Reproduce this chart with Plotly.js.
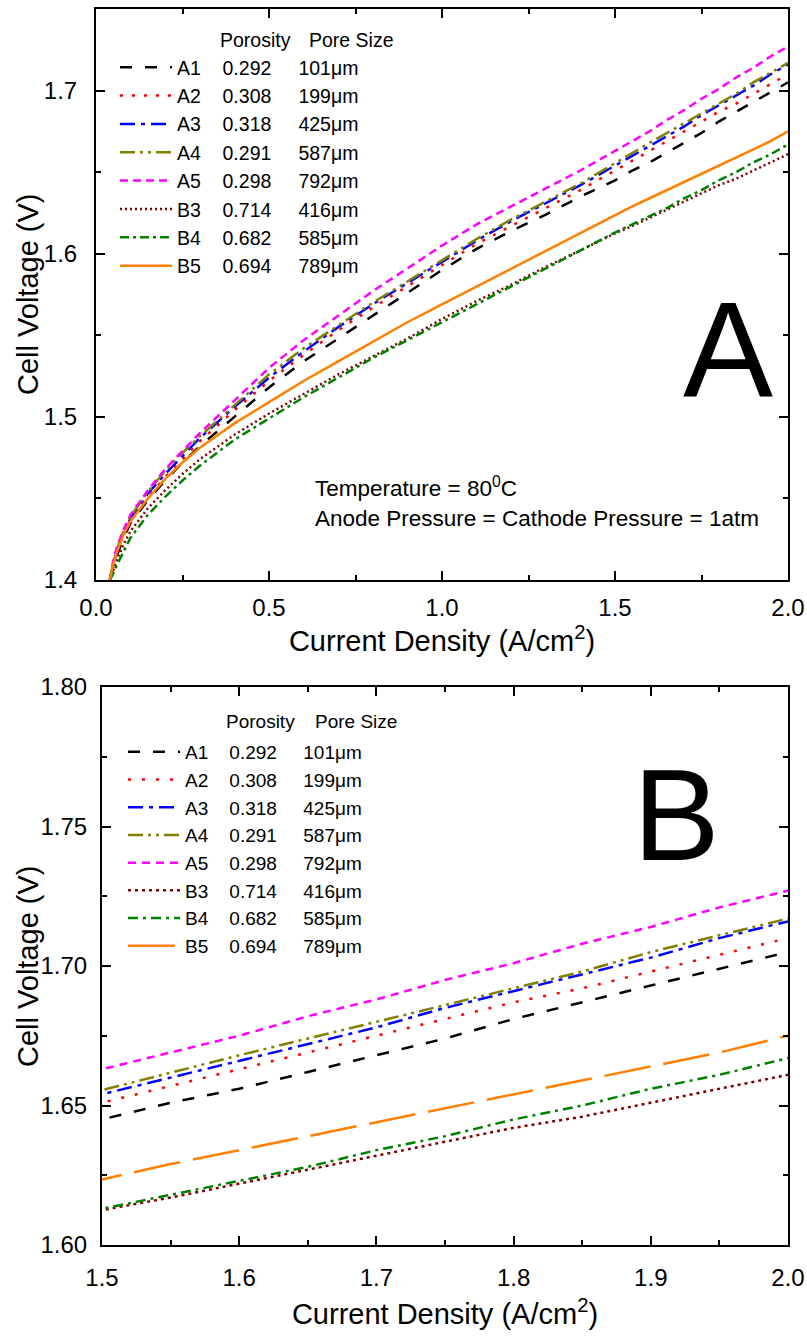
<!DOCTYPE html>
<html><head><meta charset="utf-8">
<script src="https://cdn.plot.ly/plotly-3.0.1.min.js"></script>
<style>html,body{margin:0;padding:0;background:#fff}#chart{width:807px;height:1340px}</style>
</head><body><div id="chart"></div>
<script>
// ---- data ----
const current = [0.04,0.05,0.06,0.08,0.1,0.15,0.2,0.25,0.3,0.4,0.5,0.6,0.7,0.8,0.9,1.0,1.1,1.2,1.3,1.4,1.5,1.55,1.6,1.65,1.7,1.75,1.8,1.85,1.9,1.95,2.0];
const seriesNames = ['A1','A2','A3','A4','A5','B3','B4','B5'];
const porosity = ['0.292','0.308','0.318','0.291','0.298','0.714','0.682','0.694'];
const poreSize = ['101','199','425','587','792','416','585','789'];
const vA1 = [1.400,1.408,1.415,1.426,1.435,1.449,1.461,1.472,1.482,1.500,1.518,1.534,1.548,1.562,1.576,1.590,1.603,1.614,1.624,1.635,1.645,1.651,1.656,1.662,1.668,1.674,1.681,1.687,1.693,1.699,1.705];
const vA2 = [1.400,1.409,1.417,1.428,1.437,1.451,1.463,1.474,1.485,1.504,1.522,1.538,1.553,1.567,1.580,1.593,1.606,1.617,1.628,1.639,1.651,1.657,1.663,1.669,1.675,1.681,1.687,1.692,1.698,1.704,1.710];
const vA3 = [1.400,1.410,1.418,1.429,1.438,1.453,1.465,1.476,1.487,1.506,1.524,1.540,1.555,1.569,1.582,1.595,1.608,1.620,1.631,1.642,1.654,1.660,1.666,1.672,1.678,1.685,1.691,1.697,1.703,1.710,1.716];
const vA4 = [1.400,1.411,1.419,1.430,1.439,1.454,1.467,1.478,1.488,1.507,1.526,1.542,1.556,1.570,1.583,1.596,1.609,1.621,1.632,1.643,1.6555,1.662,1.668,1.674,1.680,1.686,1.692,1.698,1.705,1.711,1.717];
const vA5 = [1.400,1.412,1.420,1.431,1.440,1.455,1.468,1.479,1.490,1.510,1.530,1.547,1.562,1.577,1.591,1.605,1.618,1.629,1.640,1.651,1.663,1.669,1.675,1.682,1.688,1.695,1.701,1.708,1.714,1.721,1.727];
const vB3 = [1.400,1.406,1.412,1.422,1.430,1.444,1.455,1.465,1.474,1.489,1.502,1.514,1.526,1.537,1.548,1.560,1.571,1.581,1.592,1.602,1.6125,1.617,1.622,1.627,1.632,1.637,1.642,1.646,1.651,1.656,1.661];
const vB4 = [1.400,1.404,1.409,1.418,1.426,1.440,1.451,1.461,1.470,1.486,1.499,1.512,1.524,1.536,1.547,1.558,1.569,1.580,1.591,1.602,1.613,1.618,1.623,1.628,1.634,1.639,1.645,1.650,1.656,1.661,1.667];
const vB5 = [1.400,1.410,1.417,1.428,1.436,1.450,1.462,1.472,1.481,1.496,1.509,1.522,1.534,1.546,1.558,1.569,1.580,1.591,1.602,1.613,1.6235,1.629,1.634,1.639,1.644,1.649,1.654,1.659,1.664,1.669,1.675];
const values = [vA1,vA2,vA3,vA4,vA5,vB3,vB4,vB5];

// ---- styles ----
const colors = ['#000000','#ff0000','#0000ff','#808000','#ff00ff','#800000','#008000','#ff8000'];
const dashTop = ['12px,13px','3px,9px','15px,6px,4px,6px','15px,5px,3px,5px,3px,5px','8px,5px','2px,3px','9px,4px,3px,4px','solid'];
const dashBot = ['12px,13px','3px,11px','15px,6px,4px,6px','15px,5px,3px,5px,3px,5px','8px,6px','3px,4px','10px,5px,3px,5px','47px,13px'];
const FONT = 'Arial, "Liberation Sans", Helvetica, sans-serif';
const W = 807, H = 1340;
const px = v => v / W, py = v => 1 - v / H;
const nb = n => '\u00a0'.repeat(n);

const traces = [];
for (let i = 0; i < seriesNames.length; i++) {
  const label = seriesNames[i] + nb(4) + porosity[i] + nb(5) + poreSize[i] + '\u03bcm';
  traces.push({x: current, y: values[i], xaxis: 'x', yaxis: 'y', mode: 'lines', name: label,
    legend: 'legend', line: {color: colors[i], dash: dashTop[i], width: 2.5}, hoverinfo: 'skip'});
  traces.push({x: current, y: values[i], xaxis: 'x2', yaxis: 'y2', mode: 'lines', name: label,
    legend: 'legend2', line: {color: colors[i], dash: dashBot[i], width: 2.5}, hoverinfo: 'skip'});
}

const axCommon = {
  showline: true, linecolor: '#000', linewidth: 2, mirror: 'ticks',
  ticks: 'inside', ticklen: 9, tickwidth: 2, tickcolor: '#000',
  showgrid: false, zeroline: false,
  tickfont: {family: FONT, size: 24, color: '#000'},
};
const titleFont = {family: FONT, size: 29, color: '#000'};
const labelFont = {family: FONT, size: 19.5, color: '#000'};
const labelFont2 = {family: FONT, size: 19, color: '#000'};

const layout = {
  width: W, height: H,
  margin: {l: 0, r: 0, t: 0, b: 0},
  paper_bgcolor: '#fff', plot_bgcolor: '#fff',
  showlegend: true,
  xaxis: Object.assign({}, axCommon, {
    domain: [px(96), px(788)], anchor: 'y', range: [0, 2.0], dtick: 0.5, tick0: 0, tickformat: '.1f',
    minor: {ticks: 'inside', ticklen: 5, tickwidth: 2, dtick: 0.25, tickcolor: '#000'},
    ticklabelstandoff: 5,
    title: {text: 'Current Density (A/cm<sup>2</sup>)', font: titleFont, standoff: 0}
  }),
  yaxis: Object.assign({}, axCommon, {
    domain: [py(580), py(9)], anchor: 'x', range: [1.4, 1.75], dtick: 0.1, tick0: 1.4, tickformat: '.1f',
    minor: {ticks: 'inside', ticklen: 5, tickwidth: 2, dtick: 0.05, tickcolor: '#000'},
    ticklabelstandoff: 12
  }),
  xaxis2: Object.assign({}, axCommon, {
    domain: [px(102), px(788)], anchor: 'y2', range: [1.5, 2.0], dtick: 0.1, tick0: 1.5, tickformat: '.1f',
    minor: {ticks: 'inside', ticklen: 5, tickwidth: 2, dtick: 0.05, tickcolor: '#000'},
    ticklabelstandoff: 10,
    title: {text: 'Current Density (A/cm<sup>2</sup>)', font: titleFont, standoff: 14}
  }),
  yaxis2: Object.assign({}, axCommon, {
    domain: [py(1245), py(687)], anchor: 'x2', range: [1.6, 1.8], dtick: 0.05, tick0: 1.6, tickformat: '.2f',
    minor: {ticks: 'inside', ticklen: 5, tickwidth: 2, dtick: 0.025, tickcolor: '#000'},
    ticklabelstandoff: 8
  }),
  legend: {x: px(115), xanchor: 'left', y: py(48), yanchor: 'top', bgcolor: 'rgba(0,0,0,0)',
    font: labelFont, itemwidth: 52, traceorder: 'normal', tracegroupgap: 0},
  legend2: {x: px(123), xanchor: 'left', y: py(733), yanchor: 'top', bgcolor: 'rgba(0,0,0,0)',
    font: labelFont2, itemwidth: 52, traceorder: 'normal', tracegroupgap: 0},
  annotations: [
    {text: 'Cell Voltage (V)', xref: 'paper', yref: 'paper', x: px(28), y: py(294), xanchor: 'center', yanchor: 'middle', textangle: -90, showarrow: false, font: titleFont},
    {text: 'Cell Voltage (V)', xref: 'paper', yref: 'paper', x: px(28), y: py(966), xanchor: 'center', yanchor: 'middle', textangle: -90, showarrow: false, font: titleFont},
    {text: 'Porosity', xref: 'paper', yref: 'paper', x: px(218), y: py(40), xanchor: 'left', yanchor: 'middle', showarrow: false, font: labelFont},
    {text: 'Pore Size', xref: 'paper', yref: 'paper', x: px(307), y: py(40), xanchor: 'left', yanchor: 'middle', showarrow: false, font: labelFont},
    {text: 'Porosity', xref: 'paper', yref: 'paper', x: px(224), y: py(722), xanchor: 'left', yanchor: 'middle', showarrow: false, font: labelFont2},
    {text: 'Pore Size', xref: 'paper', yref: 'paper', x: px(313), y: py(722), xanchor: 'left', yanchor: 'middle', showarrow: false, font: labelFont2},
    {text: 'A', xref: 'paper', yref: 'paper', x: px(728), y: py(350), xanchor: 'center', yanchor: 'middle', showarrow: false, font: {family: FONT, size: 135, color: '#000'}},
    {text: 'B', xref: 'paper', yref: 'paper', x: px(676), y: py(815), xanchor: 'center', yanchor: 'middle', showarrow: false, font: {family: FONT, size: 130, color: '#000'}},
    {text: 'Temperature = 80<sup>0</sup>C<br>Anode Pressure = Cathode Pressure = 1atm', xref: 'paper', yref: 'paper',
      x: px(313), y: py(502), xanchor: 'left', yanchor: 'middle', align: 'left', showarrow: false,
      font: {family: FONT, size: 22.5, color: '#000'}}
  ]
};

Plotly.newPlot('chart', traces, layout, {staticPlot: true, displayModeBar: false});
</script>
</body></html>
